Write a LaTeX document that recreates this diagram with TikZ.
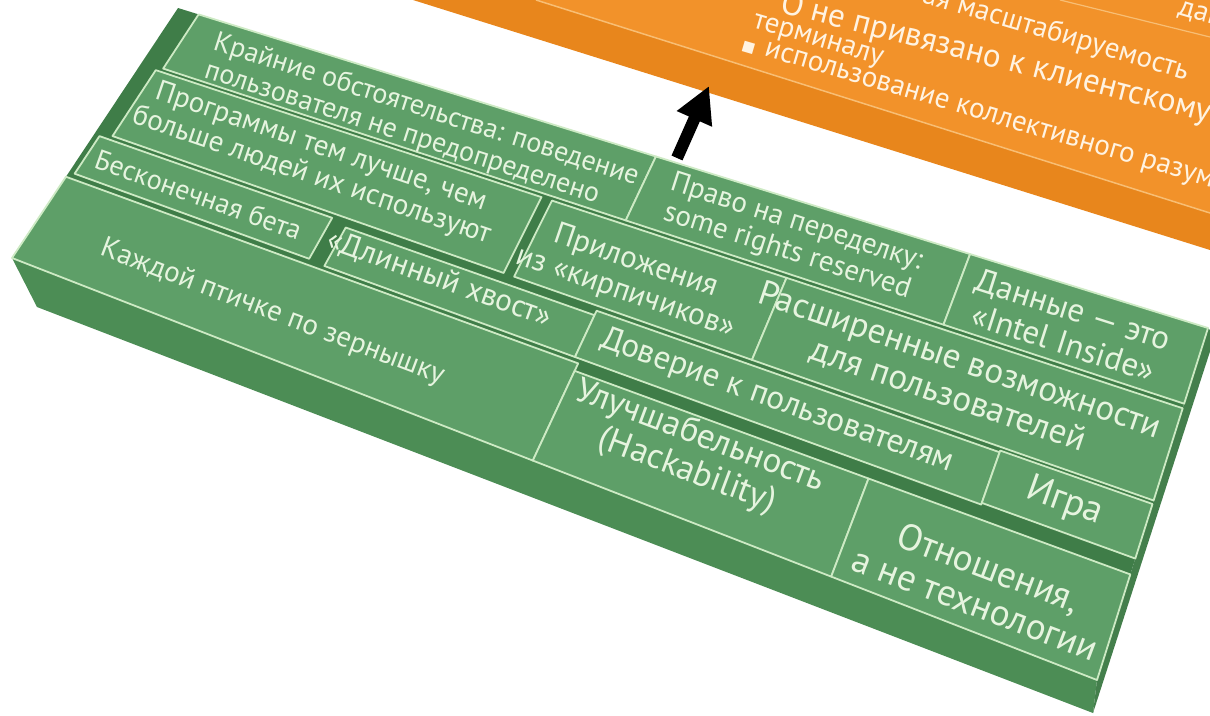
\documentclass[tikz,border=0pt]{standalone}
\usepackage{fontspec}
\setmainfont{PT Sans}
\newfontfamily\bulletfont{DejaVu Sans}
\usetikzlibrary{arrows.meta}

\definecolor{orangetop}{HTML}{F2922A}
\definecolor{orangefront}{HTML}{E8861C}
\definecolor{orangeline}{HTML}{F8BE74}
\definecolor{orangetext}{HTML}{FFF3E2}
\definecolor{greentile}{HTML}{5E9F68}
\definecolor{greenbody}{HTML}{3F7D48}
\definecolor{greenfront}{HTML}{4C8D55}
\definecolor{greenside}{HTML}{447F4C}
\definecolor{greenline}{HTML}{CDEAC4}
\definecolor{greentext}{HTML}{E6F4DF}

\tikzset{
  tileface/.style={fill=greentile, draw=greenline, line width=1.8pt, line join=round},
  tiletext/.style={text=greentext, align=center, inner sep=0pt},
  listtext/.style={text=orangetext, inner sep=0pt, rotate=-16.4, font=\fontsize{29}{31}\selectfont},
}

% point on the top of the slab: s along, t across (0 = back, 1 = front)
\newcommand{\slabpt}[3]{%
  \pgfmathsetmacro\slabx{(1-#3)*((1-#2)*178+#2*1208)+#3*((1-#2)*12+#2*1097)}%
  \pgfmathsetmacro\slaby{(1-#3)*((1-#2)*8+#2*328)+#3*((1-#2)*258+#2*680)}%
  \coordinate (#1) at (\slabx,\slaby);}

\newcommand{\slabtile}[5]{%
  \slabpt{#1-nw}{#2}{#4}\slabpt{#1-ne}{#3}{#4}%
  \slabpt{#1-se}{#3}{#5}\slabpt{#1-sw}{#2}{#5}%
  \filldraw[tileface] (#1-nw) -- (#1-ne) -- (#1-se) -- (#1-sw) -- cycle;}

\newcommand{\slablabel}[6][]{%
  \slabpt{#2-c}{#3}{#4}%
  \pgfmathsetmacro\slabang{-atan2((1-#4)*320+#4*422,(1-#4)*1030+#4*1085)}%
  \pgfmathsetmacro\slabskip{1.05*#5}%
  \node[tiletext, #1, rotate=\slabang, font=\fontsize{#5}{\slabskip}\selectfont] (#2) at (#2-c) {#6};}

\begin{document}
\begin{tikzpicture}[x=1pt,y=-1pt]
\useasboundingbox (0,0) rectangle (1210,715);
\clip (0,0) rectangle (1210,715);

% orange block
\fill[orangefront] (413,0) -- (536,0) -- (1210,213) -- (1210,250) -- cycle;
\fill[orangetop] (536,0) -- (1210,0) -- (1210,213) -- cycle;
\draw[orangeline, line width=1.5pt] (536,0) -- (1210,213);
\draw[orangeline, line width=1.2pt] (1060,0) -- (1210,37);

\node[listtext, anchor=base west] (item-a) at (1177,14) {дан};
\node[listtext, anchor=base east] (item-b) at (1186,80) {ая масштабируемость};
\node[listtext, anchor=base west, rotate=2, font=\fontsize{33}{35}\selectfont] (item-c) at (779,12) {О не привязано к клиентскому};
\node[listtext, anchor=base west] (item-d) at (752,27) {терминалу};
\node[listtext, anchor=base west] (item-e) at (741,49) {{\bulletfont\fontsize{14}{14}\selectfont ■}\hspace{10pt}использование коллективного разум};

% arrow
\coordinate (arrow-tail) at (677,158);
\coordinate (arrow-tip) at (709,86);
\draw[line width=12pt, -{Triangle[length=36pt,width=36pt]}] (arrow-tail) -- (arrow-tip);

% green slab
\coordinate (back-left) at (178,8);
\coordinate (back-right) at (1208,328);
\coordinate (front-right) at (1097,680);
\coordinate (front-left) at (12,258);
\coordinate (front-right-low) at (1093,713);
\coordinate (front-left-low) at (37,307);
\coordinate (back-right-low) at (1215,336);
\fill[greenfront] (front-left) -- (front-right) -- (front-right-low) -- (front-left-low) -- cycle;
\fill[greenside] (back-right) -- (back-right-low) -- (front-right-low) -- (front-right) -- cycle;
\fill[greenbody] (back-left) -- (back-right) -- (front-right) -- (front-left) -- cycle;

% back row
\slabtile{kraynie}{0.02}{0.464}{0}{0.215}
\slabtile{pravo}{0.464}{0.769}{0}{0.215}
\slabtile{dannye}{0.769}{1}{0}{0.215}
% second row
\slabtile{programmy}{0.015}{0.385}{0.228}{0.49}
\slabtile{prilozheniya}{0.395}{0.62}{0.228}{0.49}
\slabtile{rasshirennye}{0.62}{1}{0.228}{0.49}
% third row
\slabtile{beta}{0.005}{0.225}{0.505}{0.655}
\slabtile{hvost}{0.24}{0.475}{0.52}{0.66}
\slabtile{doverie}{0.475}{0.856}{0.505}{0.66}
\slabtile{igra}{0.856}{1}{0.50}{0.655}
% front row
\slabtile{kazhdoy}{0}{0.48}{0.675}{1}
\slabtile{hackability}{0.48}{0.755}{0.70}{1}
\slabtile{otnosheniya}{0.755}{1}{0.70}{1}

\slablabel[align=left]{kraynie-text}{0.255}{0.125}{28}{Крайние обстоятельства: поведение\\пользователя не предопределено}
\slablabel{pravo-text}{0.61}{0.11}{29}{Право на переделку:\\some rights reserved}
\slablabel{dannye-text}{0.877}{0.11}{33}{Данные — это\\«Intel Inside»}
\slablabel{programmy-text}{0.187}{0.35}{29}{Программы тем лучше, чем\\больше людей их используют}
\slablabel{prilozheniya-text}{0.49}{0.375}{31}{Приложения\\из «кирпичиков»}
\slablabel{rasshirennye-text}{0.795}{0.35}{35}{Расширенные возможности\\для пользователей}
\slablabel{beta-text}{0.11}{0.58}{28}{Бесконечная бета}
\slablabel{hvost-text}{0.336}{0.575}{31}{«Длинный хвост»}
\slablabel{doverie-text}{0.655}{0.58}{33}{Доверие к пользователям}
\slablabel{igra-text}{0.925}{0.575}{38}{Игра}
\slablabel{kazhdoy-text}{0.22}{0.86}{29}{Каждой птичке по зернышку}
\slablabel{hackability-text}{0.605}{0.81}{35}{Улучшабельность\\(Hackability)}
\slablabel{otnosheniya-text}{0.88}{0.87}{37}{Отношения,\\а не технологии}
\end{tikzpicture}
\end{document}
